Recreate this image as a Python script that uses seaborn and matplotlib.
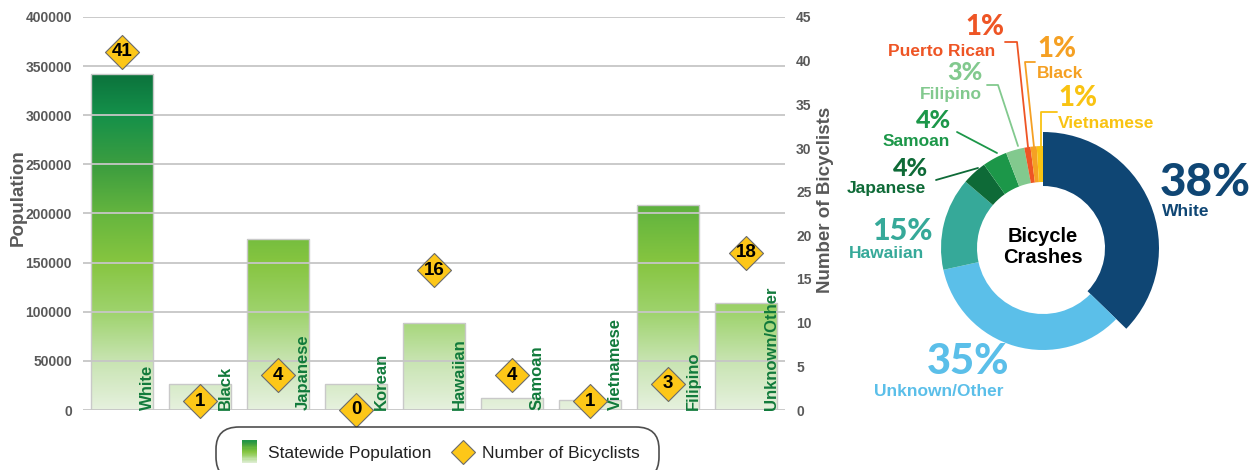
import numpy as np
import seaborn as sns
import matplotlib
matplotlib.use('agg')
import matplotlib.pyplot as plt
from matplotlib.colors import LinearSegmentedColormap
from matplotlib.patches import Rectangle
from matplotlib.lines import Line2D
from matplotlib.legend_handler import HandlerBase

sns.set_style('white')
plt.rcParams['font.family'] = ['Liberation Sans', 'DejaVu Sans']

# bar chart data
groups = ['White', 'Black', 'Japanese', 'Korean', 'Hawaiian', 'Samoan',
          'Vietnamese', 'Filipino', 'Unknown/Other']
population = [342000, 26500, 174000, 26000, 88300, 11900, 10200, 208500, 108600]
bicyclists = [41, 1, 4, 0, 16, 4, 1, 3, 18]

# donut data (bicycle crashes, %), clockwise from 12 o'clock
crash_groups = ['White', 'Unknown/Other', 'Hawaiian', 'Japanese', 'Samoan',
                'Filipino', 'Puerto Rican', 'Black', 'Vietnamese']
crash_pct = [38, 35, 15, 4, 4, 3, 1, 1, 1]
crash_colors = ['#0f4674', '#5bbfe9', '#36a999', '#0e6a37', '#1c9749',
                '#82c98e', '#ee5525', '#f5a023', '#f9c312']

grey = '#595959'
label_green = '#117a3b'
yellow = '#fdc718'
bar_cmap = LinearSegmentedColormap.from_list('bars', [
    (0.0, '#e6f1de'), (0.14, '#c8e4b2'), (0.28, '#9fd36e'), (0.43, '#86c540'),
    (0.55, '#6ab83e'), (0.7, '#3f9f3f'), (0.86, '#14904a'), (1.0, '#0a6c39')])

fig = plt.figure(figsize=(12.6, 4.7), dpi=100)
ax = fig.add_axes([83 / 1260, 60 / 470, 702 / 1260, 393 / 470])

sns.barplot(x=groups, y=population, ax=ax, width=0.8, color='#8cc63f',
            edgecolor='#c9c9c9', linewidth=1)
# vertical green gradient inside each bar
grad = np.linspace(0, 1, 256).reshape(-1, 1)
for p in ax.patches:
    x0 = p.get_x()
    im = ax.imshow(grad, cmap=bar_cmap, origin='lower', aspect='auto',
                   extent=[x0, x0 + p.get_width(), 0, 350000], zorder=0.9)
    im.set_clip_path(p)
    p.set_facecolor('none')

ax.set_xlim(-0.5, 8.5)
ax.set_ylim(0, 400000)
ax.set_yticks(np.arange(0, 400001, 50000))
ax.set_xticks([])
ax.set_xlabel('')
ax.set_axisbelow(False)
ax.yaxis.grid(True, color='#c6c6c6', lw=1.3)
ax.tick_params(axis='y', length=0, pad=8, labelsize=10, labelcolor=grey)
for t in ax.get_yticklabels():
    t.set_fontweight('bold')
ax.set_ylabel('Population', fontsize=13.5, fontweight='bold', color=grey)
ax.yaxis.set_label_coords(-0.08, 0.54)
sns.despine(ax=ax, left=True, bottom=True)

for i, g in enumerate(groups):
    ax.text(i + 0.42, 0, g, rotation=90, ha='right', va='bottom', fontsize=12,
            fontweight='bold', color=label_green, zorder=4)

ax2 = ax.twinx()
sns.scatterplot(x=np.arange(len(groups)), y=bicyclists, ax=ax2, marker='D', s=300,
                color=yellow, edgecolor='#6b6b6b', linewidth=0.8, zorder=5, clip_on=False)
for i, v in enumerate(bicyclists):
    ax2.text(i, v, str(v), ha='center', va='center', fontsize=13.5,
             fontweight='bold', color='black', zorder=6)
ax2.set_ylim(0, 45)
ax2.set_yticks(np.arange(0, 46, 5))
ax2.tick_params(axis='y', length=0, pad=8, labelsize=10, labelcolor=grey)
for t in ax2.get_yticklabels():
    t.set_fontweight('bold')
ax2.set_ylabel('Number of Bicyclists', fontsize=13.5, fontweight='bold', color=grey)
ax2.yaxis.set_label_coords(1.045, 0.535)
for s in ax2.spines.values():
    s.set_visible(False)


class HandlerGradient(HandlerBase):
    def create_artists(self, legend, orig_handle, xdescent, ydescent, width,
                       height, fontsize, trans):
        n = 20
        h = height * 1.8
        w = width * 0.55
        y0 = -ydescent - (h - height) / 2
        arts = []
        for k in range(n):
            c = bar_cmap(0.05 + 0.75 * k / (n - 1))
            arts.append(Rectangle((-xdescent + (width - w) / 2, y0 + k * h / n), w, h / n + 0.3,
                                  facecolor=c, edgecolor='none', transform=trans))
        return arts


pop_handle = Rectangle((0, 0), 1, 1)
bike_handle = Line2D([], [], marker='D', ls='', markersize=12, markerfacecolor=yellow,
                     markeredgecolor='#6b6b6b', markeredgewidth=0.8)
leg = fig.legend([pop_handle, bike_handle], ['Statewide Population', 'Number of Bicyclists'],
                 handler_map={Rectangle: HandlerGradient()}, ncol=2, loc='upper center',
                 bbox_to_anchor=(437.5 / 1260, 1 - 418 / 470), fontsize=12.5,
                 frameon=True, fancybox=True, borderpad=1.1, handlelength=1.6,
                 handletextpad=0.3, columnspacing=1.0)
fr = leg.get_frame()
fr.set_edgecolor('#222222')
fr.set_linewidth(1.2)
fr.set_boxstyle('round,pad=0,rounding_size=1.3')
for t in leg.get_texts():
    t.set_color('#222222')

# donut chart, 1 data unit = 1 pixel
axp = fig.add_axes([830 / 1260, 0, 430 / 1260, 1])
axp.axis('off')
cx, cy = 1043, 222
wedges, _ = axp.pie(crash_pct, colors=crash_colors, startangle=90, counterclock=False,
                    radius=102, center=(cx, cy), wedgeprops=dict(width=36, linewidth=0))
wedges[0].set_radius(116)
wedges[0].set_width(54)
axp.set_xlim(830, 1260)
axp.set_ylim(0, 470)
axp.set_aspect('auto')

axp.text(cx, cy + 1, 'Bicycle\nCrashes', ha='center', va='center', fontsize=14.5,
         fontweight='bold', color='black', linespacing=1.15)

pct_font = ['Lato', 'DejaVu Sans']
# (pct text, x, y, size, name, x, y, align)
labels = [
    ('38%', 1205, 183, 33, 'White', 1186, 211, 'center'),
    ('35%', 968, 362, 30, 'Unknown/Other', 939, 392, 'center'),
    ('15%', 902, 231, 22, 'Hawaiian', 887, 254, 'center'),
    ('4%', 910, 168, 18, 'Japanese', 886, 189, 'center'),
    ('4%', 933, 121, 18, 'Samoan', 916, 142, 'center'),
    ('3%', 965, 73, 18, 'Filipino', 951, 95, 'center'),
    ('1%', 985, 27, 20, 'Puerto Rican', 942, 51, 'center'),
    ('1%', 1037, 49, 20, 'Black', 1037, 74, 'left'),
    ('1%', 1058, 98, 20, 'Vietnamese', 1058, 123, 'left'),
]
for (pct, px, py, ps, name, nx, ny, ha), col in zip(labels, crash_colors):
    axp.text(px, 470 - py, pct, ha=ha, va='center', fontsize=ps, family=pct_font,
             fontweight='black', color=col)
    axp.text(nx, 470 - ny, name, ha=ha, va='center', fontsize=12.5,
             fontweight='bold', color=col)

# leader lines (pixel coords, y down)
leaders = {
    'Japanese': [(936, 180), (978, 168)],
    'Samoan': [(957, 132), (997, 153)],
    'Filipino': [(987, 85), (998, 85), (1018, 146)],
    'Puerto Rican': [(1005, 42), (1017, 42), (1028, 147)],
    'Black': [(1035, 62), (1025, 62), (1034, 147)],
    'Vietnamese': [(1057, 112), (1041, 112), (1041, 147)],
}
for name, pts in leaders.items():
    col = crash_colors[crash_groups.index(name)]
    xs = [p[0] for p in pts]
    ys = [470 - p[1] for p in pts]
    axp.plot(xs, ys, color=col, lw=1.3)

fig.savefig('out.png', dpi=100)
